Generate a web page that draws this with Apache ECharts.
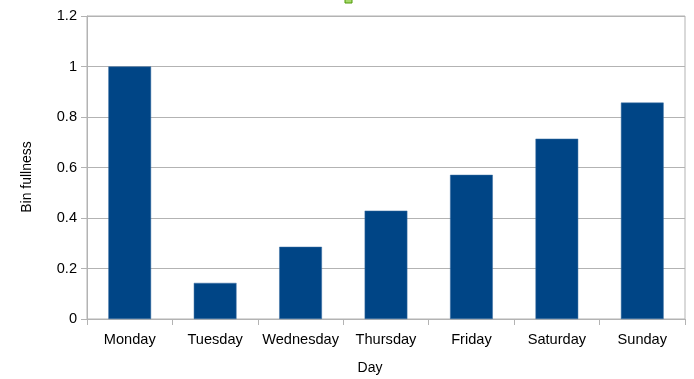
<!DOCTYPE html>
<html>
<head>
<meta charset="utf-8">
<script src="https://cdn.jsdelivr.net/npm/echarts@6/dist/echarts.min.js"></script>
<style>html,body{margin:0;padding:0;background:#fff;}#c{width:694px;height:379px;}</style>
</head>
<body>
<div id="c"></div>
<script>
const categories = ["Monday", "Tuesday", "Wednesday", "Thursday", "Friday", "Saturday", "Sunday"];
const binFullness = [1.0, 0.143, 0.286, 0.429, 0.571, 0.714, 0.857];
const xAxisTitle = "Day";
const yAxisTitle = "Bin fullness";

const chart = echarts.init(document.getElementById('c'), null, {renderer: 'canvas'});
const font = "'Liberation Sans', Arial, sans-serif";
chart.setOption({
  animation: false,
  backgroundColor: '#ffffff',
  grid: {left: 87, right: 9, top: 16, bottom: 60, show: true, borderColor: '#b3b3b3', borderWidth: 1},
  xAxis: {
    type: 'category',
    data: categories,
    axisLine: {lineStyle: {color: '#b3b3b3'}},
    axisTick: {show: true, length: 6, alignWithLabel: false, lineStyle: {color: '#b3b3b3'}},
    axisLabel: {fontFamily: font, fontSize: 14.6, color: '#000', margin: 13, interval: 0}
  },
  yAxis: {
    type: 'value',
    min: 0, max: 1.2, interval: 0.2,
    axisLine: {show: true, lineStyle: {color: '#b3b3b3'}},
    axisTick: {show: true, length: 6, lineStyle: {color: '#b3b3b3'}},
    splitLine: {show: true, lineStyle: {color: '#b3b3b3'}},
    axisLabel: {fontFamily: font, fontSize: 14.6, color: '#000', margin: 10}
  },
  series: [{
    type: 'bar',
    data: binFullness,
    barWidth: '50%',
    itemStyle: {color: '#004586', borderColor: '#3b6fa3', borderWidth: 0.5}
  }],
  graphic: [
    {
      type: 'rect',
      shape: {x: 345, y: -3, width: 7, height: 6},
      style: {fill: '#a5d86a', stroke: '#4e9a06', lineWidth: 1}
    },
    {
      type: 'text',
      x: 370, y: 368,
      style: {text: xAxisTitle, fontFamily: font, fontSize: 14, fill: '#000', align: 'center', verticalAlign: 'middle'}
    },
    {
      type: 'text',
      x: 27, y: 177,
      rotation: Math.PI / 2,
      style: {text: yAxisTitle, fontFamily: font, fontSize: 14, fill: '#000', align: 'center', verticalAlign: 'middle'}
    }
  ]
});
</script>
</body>
</html>
